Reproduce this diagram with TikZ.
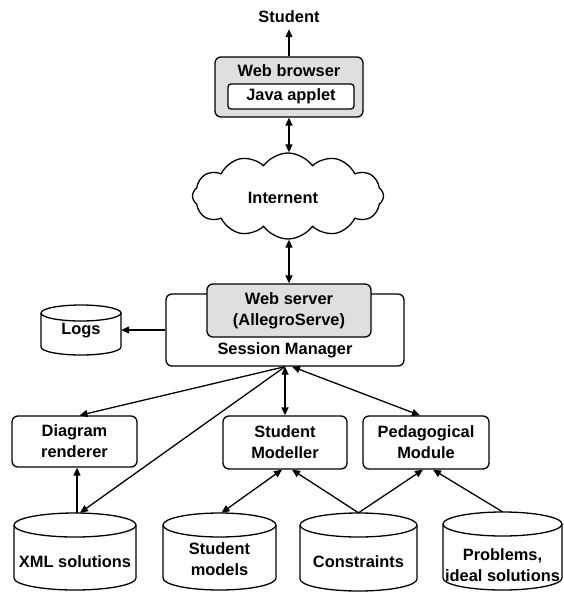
\documentclass[tikz,border=0pt]{standalone}
\usepackage{fontspec}
\setmainfont{Liberation Sans}
\usetikzlibrary{arrows.meta,shapes.symbols,calc}
\tikzset{
  ln/.style={line width=1.3pt},
  box/.style={draw, ln, rounded corners=6pt, inner sep=0pt},
  lbl/.style={font=\bfseries\fontsize{16.4}{21}\selectfont, align=center, inner sep=0pt},
  arr/.style={ln, -{Triangle[length=8pt,width=7pt]}},
  darr/.style={ln, {Triangle[length=8pt,width=7pt]}-{Triangle[length=8pt,width=7pt]}},
  shaded/.style={fill=gray!25},
}
% name, x1, y1, x2, y2, ry, text, text y
\newcommand{\dbcyl}[8]{%
  \pgfmathsetmacro\cw{#4-#2}\pgfmathsetmacro\ch{#5-#3}%
  \pgfmathsetmacro\cx{(#2+#4)/2}\pgfmathsetmacro\cy{(#3+#5)/2}%
  \pgfmathsetmacro\crx{(#4-#2)/2}%
  \draw[ln, fill=white] (#2,#3+#6) -- (#2,#5-#6) arc[start angle=180,end angle=360,x radius=\crx pt,y radius=#6 pt] -- (#4,#3+#6);
  \draw[ln] (\cx,#3+#6) ellipse[x radius=\crx pt, y radius=#6 pt];
  \node[inner sep=0pt, minimum width=\cw pt, minimum height=\ch pt] (#1) at (\cx,\cy) {};
  \node[lbl] (#1text) at (\cx,#8) {#7};
}
\begin{document}
\begin{tikzpicture}[x=1pt,y=-1pt]
\useasboundingbox (0,0) rectangle (563,592);

% top part
\node[lbl] (student) at (289,17) {Student};
\node[box, shaded, minimum width=148pt, minimum height=60pt] (browser) at (289,87) {};
\node[lbl] (browsertitle) at (289,71) {Web browser};
\node[box, lbl, fill=white, rounded corners=3pt, minimum width=126pt, minimum height=25pt] (applet) at (291,96.5) {Java applet};

\node[cloud, draw, ln, cloud puffs=12, cloud puff arc=110, minimum width=191pt, minimum height=86pt, inner sep=0pt] (cloud) at (288,196) {};
\node[lbl] (inet) at (283,198) {Internent};

% server
\node[box, minimum width=238pt, minimum height=72pt] (sm) at (285,330) {};
\node[lbl] (smtext) at (285,350) {Session Manager};
\node[box, lbl, shaded, minimum width=164pt, minimum height=53pt] (ws) at (289,310.5) {Web server\\(AllegroServe)};

\dbcyl{logs}{41}{305}{121}{355}{8}{Logs}{331}

% modules
\node[box, lbl, minimum width=125pt, minimum height=51pt] (dr) at (74.5,441.5) {Diagram\\renderer};
\node[box, lbl, minimum width=124pt, minimum height=53pt] (smodeller) at (285,442.5) {Student\\Modeller};
\node[box, lbl, minimum width=126pt, minimum height=53pt] (ped) at (426,442.5) {Pedagogical\\Module};

% databases
\dbcyl{xml}{14}{513}{136}{590}{12}{XML solutions}{562}
\dbcyl{smod}{163}{513}{276}{590}{12}{Student\\models}{559}
\dbcyl{cons}{300}{513}{417}{591}{12}{Constraints}{562}
\dbcyl{prob}{443}{512}{562}{590}{12}{\fontsize{16.4}{16}\selectfont Problems,\\ideal solutions}{565}

% connectors
\coordinate (smA) at (sm.south);
\coordinate (smB) at ([xshift=7pt]sm.south);
\draw[arr, shorten >=6pt] (browser.north) -- (browser.north |- student.south);
\draw[darr] (browser.south) -- (browser.south |- cloud.north);
\draw[darr] (ws.north |- cloud.south) -- (ws.north);
\draw[arr] (sm.west) -- (logs.east);
\draw[arr] (smA) -- ([xshift=5pt]dr.north);
\draw[arr] (smA) -- ([xshift=5pt]xml.north);
\draw[darr] (sm.south) -- (smodeller.north);
\draw[darr] (smB) -- ([xshift=-6pt]ped.north);
\draw[arr] ([xshift=2pt]xml.north) -- ([xshift=2pt]xml.north |- dr.south);
\draw[darr] ([xshift=2pt]smod.north) -- ([xshift=-3pt]smodeller.south);
\draw[arr] (cons.north) -- ([xshift=7pt]smodeller.south);
\draw[arr] (cons.north) -- ([xshift=-3pt]ped.south);
\draw[arr] (prob.north) -- ([xshift=7pt]ped.south);
\end{tikzpicture}
\end{document}
